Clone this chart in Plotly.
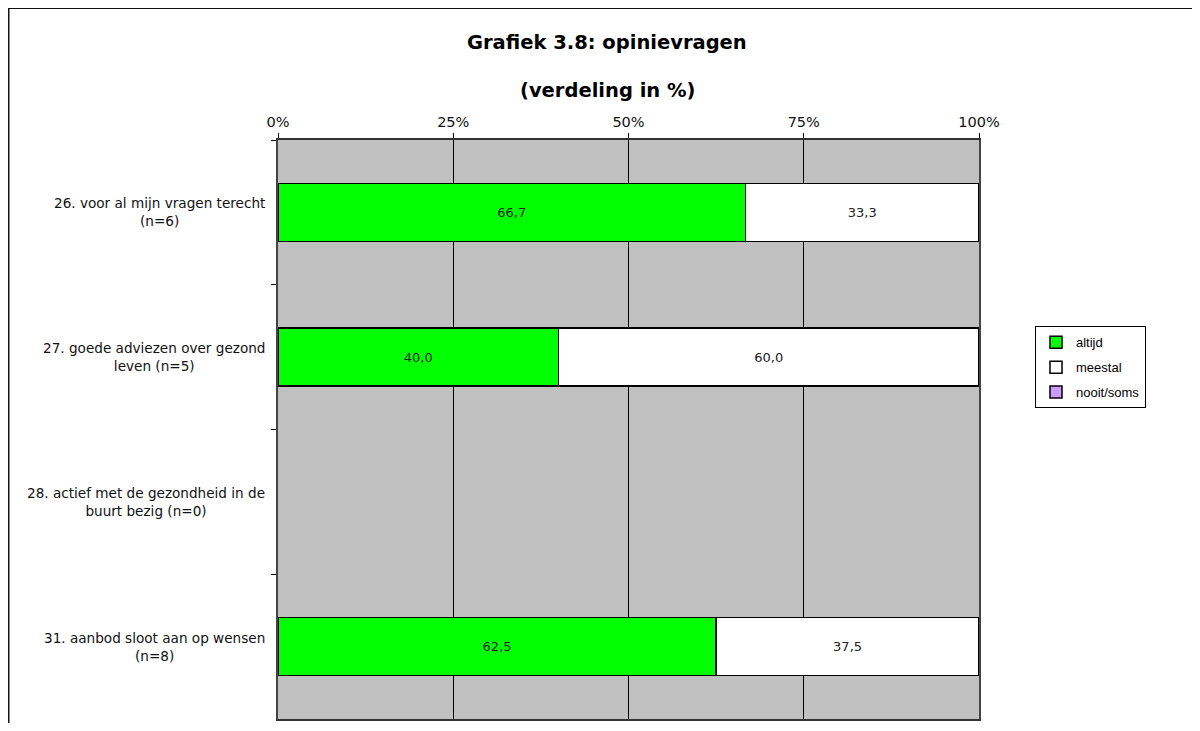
import plotly.graph_objects as go

categories = [
    "26. voor al mijn vragen terecht<br>(n=6)",
    "27. goede adviezen over gezond<br>leven (n=5)",
    "28. actief met de gezondheid in de<br>buurt bezig (n=0)",
    "31. aanbod sloot aan op wensen<br>(n=8)",
]
altijd = [66.7, 40.0, None, 62.5]
meestal = [33.3, 60.0, None, 37.5]
nooit_soms = [0.0, 0.0, None, 0.0]
x_ticks = [0, 25, 50, 75, 100]
x_tick_labels = ["0%", "25%", "50%", "75%", "100%"]

keys = ["c26", "c27", "c28", "c31"]

OFF = 8  # page body margin offset
W, H = 1184, 715
L, T = 278 - OFF, 140 - OFF
R = W - (979 - OFF)
B = H - (721 - OFF)
pw, ph = W - L - R, H - T - B


def px(x):
    return (x - OFF - L) / pw


def py(y):
    return 1 - (y - OFF - T) / ph


fig = go.Figure()
series = [
    ("altijd", altijd, "#00FF00"),
    ("meestal", meestal, "#FFFFFF"),
    ("nooit/soms", nooit_soms, "#CC99FF"),
]
for name, vals, col in series:
    fig.add_trace(go.Bar(
        y=keys, x=vals, name=name, orientation="h", legendgroup=name,
        marker=dict(color=col, line=dict(color="#000000", width=1.5)),
        texttemplate=["%{x:.1f}" if (v is not None and v > 0) else "" for v in vals],
        textposition="inside", insidetextanchor="middle",
        textfont=dict(family="DejaVu Sans", size=13, color="#222222"),
        constraintext="none",
    ))

annotations = []
for k, lab in zip(keys, categories):
    annotations.append(dict(
        x=px(267), xref="paper", y=k, yref="y",
        text=lab, showarrow=False, xanchor="right", yanchor="middle", align="center",
        font=dict(family="DejaVu Sans", size=13.6, color="#111111"),
    ))
annotations.append(dict(
    x=px(607), xref="paper", y=py(42), yref="paper",
    text="<b>Grafiek 3.8: opinievragen</b>", showarrow=False, xanchor="center", yanchor="middle",
    font=dict(family="DejaVu Sans", size=19.5, color="#000000"),
))
annotations.append(dict(
    x=px(607), xref="paper", y=py(90), yref="paper",
    text="<b>(verdeling in %)</b>", showarrow=False, xanchor="center", yanchor="middle",
    font=dict(family="DejaVu Sans", size=19.5, color="#000000"),
))

fig.update_layout(
    width=W, height=H,
    barmode="stack", bargap=0.6,
    separators=",.",
    plot_bgcolor="#C0C0C0", paper_bgcolor="#FFFFFF",
    margin=dict(l=L, r=R, t=T, b=B, pad=0),
    showlegend=True,
    legend=dict(
        x=px(1035), y=py(327), xanchor="left", yanchor="top",
        bordercolor="#000000", borderwidth=1, bgcolor="#FFFFFF",
        font=dict(family="Liberation Sans", size=13, color="#000000"),
        traceorder="grouped", tracegroupgap=5,
        itemwidth=30,
    ),
    annotations=annotations,
    shapes=[dict(
        type="rect", xref="paper", yref="paper",
        x0=px(8.5), x1=px(1260),
        y0=-0.2, y1=py(7.5),
        line=dict(color="#111111", width=2), layer="below",
    )],
)
fig.update_xaxes(
    side="top", range=[0, 100], tickvals=x_ticks, ticktext=x_tick_labels,
    ticks="outside", ticklen=5, tickcolor="#000000",
    showgrid=True, gridcolor="#000000", gridwidth=1,
    showline=True, linecolor="#333333", linewidth=1.5, mirror=True,
    tickfont=dict(family="DejaVu Sans", size=14.5, color="#111111"),
    zeroline=False, fixedrange=True,
)
fig.update_yaxes(
    categoryorder="array", categoryarray=keys, autorange="reversed",
    showticklabels=False, ticks="outside", ticklen=5, tickcolor="#000000",
    tickson="boundaries", showgrid=False,
    showline=True, linecolor="#444444", linewidth=2, mirror=True,
    fixedrange=True,
)

fig.write_html("out.html")
